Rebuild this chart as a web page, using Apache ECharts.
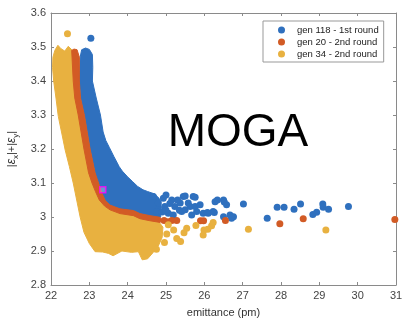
<!DOCTYPE html>
<html>
<head>
<meta charset="utf-8">
<script src="https://cdn.jsdelivr.net/npm/echarts@6/dist/echarts.min.js"></script>
<style>
  html, body { margin: 0; padding: 0; background: #fff; }
  #chart { width: 410px; height: 325px; }
</style>
</head>
<body>
<div id="chart"></div>
<script>
const names = ["gen 118 - 1st round", "gen 20 - 2nd round", "gen 34 - 2nd round"];
const colors = ["#2f70be", "#d25b25", "#e8b140"];

// x / y ranges of the axes
const xRange = [22, 31, 1];
const yRange = [2.8, 3.6, 0.1];

// outlines of the dense clouds (emittance, |ex|+|ey|)
const blueBody = [
  [22.76, 3.47], [22.8, 3.492], [22.9, 3.497], [23.0, 3.493], [23.08, 3.478], [23.09, 3.44],
  [23.08, 3.40], [23.18, 3.35], [23.29, 3.30], [23.36, 3.25], [23.43, 3.225], [23.52, 3.205],
  [23.64, 3.178], [23.78, 3.148], [23.86, 3.135], [24.0, 3.118], [24.12, 3.105], [24.26, 3.09],
  [24.4, 3.08], [24.52, 3.075], [24.7, 3.068], [24.82, 3.055], [24.88, 3.03], [24.86, 3.0],
  [24.58, 3.0], [24.32, 3.005], [24.15, 3.014], [23.8, 3.02], [23.54, 3.03], [23.42, 3.045],
  [23.32, 3.07], [23.25, 3.095], [23.16, 3.125], [23.03, 3.195], [22.88, 3.295], [22.78, 3.345],
  [22.74, 3.40]
];
const orangeBody = [
  [22.54, 3.49], [22.58, 3.40], [22.62, 3.35], [22.71, 3.30], [22.86, 3.20], [22.98, 3.13],
  [23.07, 3.10], [23.16, 3.075], [23.26, 3.05], [23.4, 3.032], [23.54, 3.021], [23.8, 3.01],
  [24.15, 3.004], [24.32, 2.995], [24.58, 2.989], [24.85, 2.984], [24.88, 2.991], [24.85, 2.999],
  [24.58, 3.004], [24.32, 3.01], [24.15, 3.019], [23.8, 3.024], [23.54, 3.035], [23.42, 3.048],
  [23.32, 3.072], [23.24, 3.10], [23.15, 3.13], [23.02, 3.20], [22.87, 3.30], [22.77, 3.35],
  [22.74, 3.40], [22.74, 3.47], [22.68, 3.492], [22.6, 3.494]
];
const yellowBody = [
  [22.05, 3.47], [22.1, 3.49], [22.18, 3.505], [22.26, 3.495], [22.36, 3.488], [22.45, 3.502],
  [22.56, 3.49], [22.6, 3.45], [22.62, 3.40], [22.67, 3.35], [22.76, 3.30], [22.9, 3.20],
  [23.01, 3.13], [23.1, 3.10], [23.19, 3.075], [23.29, 3.05], [23.44, 3.03], [23.56, 3.024],
  [23.8, 3.013], [24.15, 3.007], [24.32, 2.998], [24.58, 2.993], [24.8, 2.988], [24.92, 2.97],
  [24.9, 2.94], [24.8, 2.915], [24.66, 2.895], [24.52, 2.877], [24.38, 2.874], [24.28, 2.898],
  [24.1, 2.896], [23.85, 2.9], [23.62, 2.886], [23.5, 2.893], [23.35, 2.897], [23.15, 2.898],
  [23.0, 2.922], [22.86, 2.955], [22.76, 3.0], [22.67, 3.05], [22.58, 3.10], [22.48, 3.148],
  [22.37, 3.197], [22.28, 3.247], [22.19, 3.296], [22.13, 3.35], [22.07, 3.40], [22.04, 3.44]
];

// single points outside the clouds
const blueDots = [
  [23.04, 3.526],
  [24.67, 3.06], [24.8, 3.041], [24.76, 3.016], [24.93, 3.055], [24.97, 3.031], [25.06, 3.011],
  [25.15, 3.05], [25.23, 3.031], [25.19, 3.006], [25.37, 3.041], [25.45, 3.06], [25.5, 3.021],
  [25.58, 3.041], [25.67, 3.006], [25.71, 3.06], [25.76, 3.031], [25.8, 3.016], [25.97, 3.011],
  [26.1, 3.011], [26.28, 3.045], [26.23, 3.016], [26.5, 3.05], [26.58, 3.036], [26.67, 3.006],
  [26.76, 3.001], [25.5, 3.062], [25.76, 3.058], [25.89, 3.036], [25.63, 3.031], [25.41, 3.016],
  [26.34, 3.05], [26.52, 3.044], [26.5, 3.001], [26.71, 2.996], [26.08, 3.013], [26.26, 3.013],
  [25.0, 3.065], [25.3, 3.05], [25.1, 3.04], [25.35, 3.02], [24.9, 3.015], [25.0, 3.02],
  [27.02, 3.038], [27.64, 2.996], [27.9, 3.029], [28.08, 3.029], [28.34, 3.023], [28.51, 3.038],
  [28.83, 3.007], [28.93, 3.014], [29.09, 3.038], [29.1, 3.029], [29.24, 3.023], [29.76, 3.031]
];
const orangeDots = [
  [24.95, 2.99], [25.05, 2.986], [25.15, 2.99], [25.28, 2.99], [25.9, 2.989], [25.98, 2.989],
  [26.55, 2.99], [27.97, 2.98], [28.58, 2.995], [30.97, 2.993]
];
const yellowDots = [
  [22.43, 3.539],
  [24.96, 2.925], [25.02, 2.95], [25.06, 2.977], [25.2, 2.962], [25.28, 2.937], [25.38, 2.928],
  [25.47, 2.954], [25.54, 2.967], [25.78, 2.975], [25.97, 2.947], [25.99, 2.962], [26.09, 2.964],
  [26.19, 2.974], [26.23, 2.984], [27.15, 2.964], [29.17, 2.962], [24.75, 2.905]
];
const chosen = [[23.35, 3.08]];

const font = "Liberation Sans";
const axisGray = "#8a8a8a";

function body(points, color, z) {
  return {
    type: "custom",
    coordinateSystem: "cartesian2d",
    data: [points[0]],
    silent: true,
    z: z,
    renderItem: (params, api) => ({
      type: "polygon",
      shape: { points: points.map(p => api.coord(p)) },
      style: { fill: color, stroke: color, lineWidth: 1 }
    })
  };
}

function dots(name, data, color, z) {
  return {
    name: name,
    type: "scatter",
    data: data,
    symbol: "circle",
    symbolSize: 7,
    z: z,
    itemStyle: { color: color, opacity: 1 }
  };
}

const chart = echarts.init(document.getElementById("chart"));
chart.setOption({
  animation: false,
  textStyle: { fontFamily: font },
  grid: { left: 51, right: 14, top: 13, bottom: 40, containLabel: false, outerBoundsMode: "none" },
  legend: {
    data: names,
    orient: "vertical",
    left: 263,
    top: 21,
    padding: [3, 5, 2, 15],
    itemWidth: 7,
    itemHeight: 7,
    itemGap: 0,
    icon: "circle",
    borderColor: "#999",
    borderWidth: 1,
    textStyle: { fontSize: 9.5, lineHeight: 12, color: "#222", padding: [0, 0, 0, 7] }
  },
  graphic: [{
    type: "text",
    x: 238,
    y: 133,
    style: {
      text: "MOGA",
      font: "46px " + font,
      fill: "#000",
      align: "center",
      verticalAlign: "middle"
    }
  }],
  xAxis: [{
    type: "value",
    min: xRange[0], max: xRange[1], interval: xRange[2],
    name: "emittance (pm)",
    nameLocation: "middle",
    nameGap: 22,
    nameTextStyle: { fontSize: 11, color: "#333" },
    axisLine: { lineStyle: { color: axisGray } },
    axisTick: { inside: true, length: 3, lineStyle: { color: axisGray } },
    axisLabel: { fontSize: 11, color: "#444", margin: 5 },
    splitLine: { show: false }
  }, {
    type: "value", position: "top",
    min: xRange[0], max: xRange[1], interval: xRange[2],
    axisLine: { show: true, lineStyle: { color: axisGray } },
    axisTick: { inside: true, length: 3, lineStyle: { color: axisGray } },
    axisLabel: { show: false },
    splitLine: { show: false }
  }],
  yAxis: [{
    type: "value",
    min: yRange[0], max: yRange[1], interval: yRange[2],
    name: "|{e|ε}{s|x}|+|{e|ε}{s|y}|",
    nameLocation: "middle",
    nameRotate: 90,
    nameGap: 23,
    nameTextStyle: {
      fontSize: 11, color: "#333", lineHeight: 16,
      rich: {
        e: { fontSize: 12, fontStyle: "italic", color: "#333", lineHeight: 16 },
        s: { fontSize: 8, color: "#333", lineHeight: 8, verticalAlign: "bottom" }
      }
    },
    axisLine: { show: true, lineStyle: { color: axisGray } },
    axisTick: { inside: true, length: 3, lineStyle: { color: axisGray } },
    axisLabel: { fontSize: 11, color: "#444", margin: 5 },
    splitLine: { show: false }
  }, {
    type: "value", position: "right",
    min: yRange[0], max: yRange[1], interval: yRange[2],
    axisLine: { show: true, lineStyle: { color: axisGray } },
    axisTick: { inside: true, length: 3, lineStyle: { color: axisGray } },
    axisLabel: { show: false },
    splitLine: { show: false }
  }],
  series: [
    body(blueBody, colors[0], 1),
    body(yellowBody, colors[2], 2),
    body(orangeBody, colors[1], 3),
    dots(names[0], blueDots, colors[0], 4),
    dots(names[1], orangeDots, colors[1], 5),
    dots(names[2], yellowDots, colors[2], 6),
    {
      type: "scatter",
      data: chosen,
      symbol: "rect",
      symbolSize: 6,
      z: 7,
      itemStyle: { color: "rgba(255,255,255,0.35)", borderColor: "#ff00ff", borderWidth: 1.5 }
    }
  ]
});
</script>
</body>
</html>
